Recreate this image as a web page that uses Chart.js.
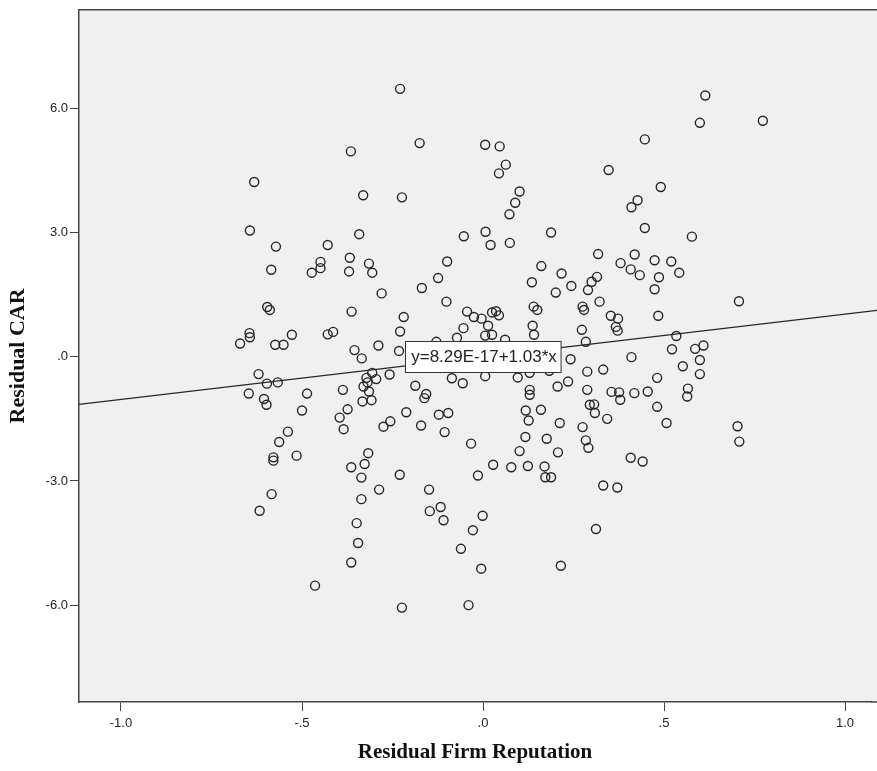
<!DOCTYPE html>
<html>
<head>
<meta charset="utf-8">
<script src="https://cdn.jsdelivr.net/npm/chart.js@4.4.1/dist/chart.umd.min.js"></script>
<style>
  html, body { margin: 0; padding: 0; background: #ffffff; }
  #wrap { width: 877px; height: 771px; }
</style>
</head>
<body>
<div id="wrap"><canvas id="chart" width="877" height="771"></canvas></div>
<script>
// residual firm reputation (x) and residual CAR (y)
const repX = [
  -0.229, -0.365, -0.632, -0.331, -0.224, -0.644, -0.572, -0.429, -0.342, -0.368, -0.315,
  -0.585, -0.473, -0.449, -0.449, -0.370, -0.306, -0.280, -0.596, -0.589, -0.363, -0.219,
  -0.229, -0.645, -0.644, -0.671, -0.528, -0.574, -0.551, -0.429, -0.414, -0.355, -0.335,
  -0.289, -0.232, -0.620, -0.597, -0.567, -0.647, -0.605, -0.598, -0.486, -0.500, -0.387,
  -0.396, -0.374, -0.385, -0.322, -0.306, -0.295, -0.330, -0.319, -0.315, -0.333, -0.308,
  -0.258, -0.212, -0.275, -0.256, -0.539,
  -0.563, -0.579, -0.579, -0.515, -0.317, -0.327, -0.364, -0.336, -0.230, -0.287, -0.584,
  -0.336, -0.617, -0.349, -0.345, -0.364, -0.464, -0.224,
  -0.175, 0.006, 0.046, 0.063, 0.044, 0.101, 0.089, 0.073, -0.053, 0.007, 0.021, 0.074, 0.188,
  -0.099, -0.124, -0.169, -0.101, 0.161, 0.217, 0.244, 0.135, 0.201, 0.140, 0.150, 0.275,
  0.279, -0.044, -0.025, -0.004, 0.025, 0.036, 0.044, -0.054, 0.014, 0.006, 0.025, -0.072,
  0.061, -0.129, 0.137, 0.141, 0.273, 0.284, 0.242, 0.288,
  -0.187, -0.157, -0.162, -0.086, -0.056, 0.006, 0.096, 0.129, 0.183, 0.129, 0.129, 0.206,
  0.235, 0.288, 0.118, 0.160, 0.126, 0.212, -0.122, -0.096, -0.171, -0.106, 0.275,
  -0.033, 0.117, 0.176, 0.101, 0.207, 0.284, 0.291, 0.028, 0.078, 0.124, 0.170, 0.172, 0.188,
  -0.014, -0.149, -0.147, -0.117, -0.109, -0.001, -0.028, -0.061, -0.005, 0.215, -0.040,
  0.614, 0.599, 0.773, 0.447, 0.347, 0.491, 0.427, 0.410, 0.447, 0.577, 0.318, 0.419, 0.474,
  0.520, 0.380,
  0.408, 0.433, 0.542, 0.486, 0.474, 0.315, 0.300, 0.290, 0.322, 0.353, 0.373, 0.367, 0.372,
  0.484, 0.707, 0.534, 0.522, 0.586, 0.609, 0.599, 0.599, 0.552, 0.410, 0.332, 0.481, 0.355,
  0.376, 0.379, 0.418, 0.455, 0.566, 0.564, 0.295, 0.307, 0.309, 0.343, 0.481, 0.507, 0.703,
  0.708, 0.408, 0.441, 0.332, 0.371, 0.312
];
const carY = [
  6.47, 4.96, 4.22, 3.90, 3.85, 3.05, 2.66, 2.70, 2.96, 2.39, 2.25,
  2.10, 2.03, 2.29, 2.14, 2.06, 2.03, 1.53, 1.20, 1.13, 1.09, 0.96,
  0.61, 0.57, 0.47, 0.32, 0.53, 0.29, 0.29, 0.54, 0.60, 0.16, -0.04,
  0.27, 0.14, -0.42, -0.65, -0.62, -0.89, -1.02, -1.16, -0.89, -1.30, -0.80,
  -1.47, -1.27, -1.75, -0.51, -0.39, -0.54, -0.72, -0.62, -0.84, -1.08, -1.05,
  -0.43, -1.34, -1.69, -1.56, -1.81,
  -2.06, -2.43, -2.51, -2.39, -2.33, -2.59, -2.67, -2.92, -2.85, -3.21, -3.32,
  -3.44, -3.72, -4.02, -4.50, -4.97, -5.53, -6.06,
  5.16, 5.12, 5.08, 4.64, 4.43, 3.99, 3.72, 3.44, 2.91, 3.02, 2.70, 2.75, 3.00,
  2.30, 1.90, 1.66, 1.33, 2.19, 2.01, 1.71, 1.80, 1.55, 1.21, 1.13, 1.21,
  1.13, 1.09, 0.96, 0.92, 1.07, 1.10, 1.00, 0.69, 0.75, 0.51, 0.53, 0.46,
  0.41, 0.36, 0.75, 0.53, 0.65, 0.36, -0.06, -0.36,
  -0.70, -0.90, -1.00, -0.52, -0.64, -0.47, -0.50, -0.39, -0.34, -0.80, -0.92, -0.72,
  -0.60, -0.80, -1.30, -1.28, -1.54, -1.60, -1.40, -1.36, -1.66, -1.82, -1.70,
  -2.10, -1.94, -1.98, -2.28, -2.31, -2.02, -2.20, -2.61, -2.67, -2.64, -2.65, -2.91, -2.91,
  -2.87, -3.21, -3.73, -3.63, -3.95, -3.84, -4.19, -4.64, -5.12, -5.05, -6.00,
  6.31, 5.65, 5.70, 5.25, 4.51, 4.10, 3.78, 3.61, 3.11, 2.90, 2.48, 2.47, 2.33,
  2.30, 2.26,
  2.11, 1.97, 2.03, 1.92, 1.63, 1.93, 1.81, 1.61, 1.33, 0.99, 0.92, 0.72, 0.63,
  0.99, 1.34, 0.50, 0.18, 0.19, 0.27, -0.08, -0.42, -0.23, -0.01, -0.31, -0.51, -0.85,
  -0.86, -1.04, -0.88, -0.84, -0.77, -0.96, -1.16, -1.15, -1.36, -1.50, -1.21, -1.60, -1.68,
  -2.05, -2.44, -2.53, -3.11, -3.16, -4.16
];

// fit line as printed on the chart
const fitIntercept = 8.29e-17;
const fitSlope = 1.03;
const fitLabel = 'y=8.29E-17+1.03*x';

const xTicks = [-1.0, -0.5, 0.0, 0.5, 1.0];
const yTicks = [-6.0, -3.0, 0.0, 3.0, 6.0];
const xMin = -1.116, xMax = 1.072;
const yMin = -8.34, yMax = 8.38;
// the frame runs past the right edge of the picture
const fitEnds = [-1.116, 1.09];

const scatterData = repX.map((x, i) => ({ x: x, y: carY[i] }));
const fitData = fitEnds.map(x => ({ x: x, y: fitIntercept + fitSlope * x }));

// SPSS style tick text: ".0", "-.5", "3.0"
function spssNum(v) {
  return v.toFixed(1).replace(/^(-?)0\./, '$1.');
}

const plotBackground = {
  id: 'plotBackground',
  beforeDraw(chart) {
    const { ctx, chartArea: a, width } = chart;
    ctx.save();
    ctx.fillStyle = '#f0f0f0';
    ctx.fillRect(a.left, a.top, width - a.left, a.bottom - a.top);
    ctx.restore();
  },
  afterDraw(chart) {
    const { ctx, chartArea: a, width } = chart;
    ctx.save();
    ctx.strokeStyle = '#444444';
    ctx.lineWidth = 1.5;
    ctx.beginPath();
    ctx.moveTo(a.left - 0.75, a.top);
    ctx.lineTo(width, a.top);
    ctx.moveTo(a.right, a.bottom);
    ctx.lineTo(width, a.bottom);
    ctx.stroke();
    ctx.restore();
  }
};

const fitLabelBox = {
  id: 'fitLabelBox',
  afterDatasetsDraw(chart) {
    const { ctx, scales } = chart;
    const cx = scales.x.getPixelForValue(0);
    const cy = scales.y.getPixelForValue(fitIntercept);
    ctx.save();
    ctx.font = '17px "Liberation Sans", Arial, sans-serif';
    const w = ctx.measureText(fitLabel).width + 10;
    const h = 31;
    const left = Math.round(cx - w / 2) + 0.5;
    const top = Math.round(cy - h / 2) + 0.5;
    ctx.fillStyle = '#ffffff';
    ctx.fillRect(left, top, w, h);
    ctx.strokeStyle = '#333333';
    ctx.lineWidth = 1;
    ctx.strokeRect(left, top, w, h);
    ctx.fillStyle = '#222222';
    ctx.textAlign = 'center';
    ctx.textBaseline = 'middle';
    ctx.fillText(fitLabel, cx + 1, cy + 1);
    ctx.restore();
  }
};

const ctx = document.getElementById('chart').getContext('2d');

new Chart(ctx, {
  type: 'scatter',
  data: {
    datasets: [
      {
        label: 'Residual CAR',
        data: scatterData,
        pointStyle: 'circle',
        pointRadius: 4.5,
        pointHoverRadius: 4.5,
        pointBorderWidth: 1.4,
        borderColor: '#262626',
        backgroundColor: 'rgba(0,0,0,0)',
        order: 2
      },
      {
        type: 'line',
        label: 'Fit',
        data: fitData,
        borderColor: '#262626',
        borderWidth: 1.2,
        pointRadius: 0,
        fill: false,
        clip: { left: 0, top: 0, right: 10, bottom: 0 },
        order: 1
      }
    ]
  },
  options: {
    animation: false,
    responsive: false,
    layout: { padding: { top: 8, right: 0, left: 0, bottom: 0 } },
    plugins: {
      legend: { display: false },
      tooltip: { enabled: false }
    },
    scales: {
      x: {
        type: 'linear',
        min: xMin,
        max: xMax,
        afterBuildTicks: (scale) => { scale.ticks = xTicks.map(v => ({ value: v })); },
        afterFit: (scale) => { scale.height = 69; },
        border: { display: true, color: '#444444', width: 1.5 },
        grid: { display: true, drawOnChartArea: false, drawTicks: true, tickLength: 9, color: '#444444', lineWidth: 1 },
        ticks: {
          callback: (v) => spssNum(v),
          color: '#222222',
          padding: 5,
          maxRotation: 0,
          autoSkip: false,
          font: { family: '"Liberation Sans", Arial, sans-serif', size: 13 }
        },
        title: {
          display: true,
          text: 'Residual Firm Reputation',
          color: '#111111',
          padding: { top: 0, bottom: 6 },
          font: { family: '"Liberation Serif", "Times New Roman", serif', size: 21, weight: 'bold' }
        }
      },
      y: {
        type: 'linear',
        min: yMin,
        max: yMax,
        afterBuildTicks: (scale) => { scale.ticks = yTicks.map(v => ({ value: v })); },
        afterFit: (scale) => { scale.width = 79; },
        border: { display: true, color: '#444444', width: 1.5 },
        grid: { display: true, drawOnChartArea: false, drawTicks: true, tickLength: 9, color: '#444444', lineWidth: 1 },
        ticks: {
          callback: (v) => spssNum(v),
          color: '#222222',
          padding: 2,
          font: { family: '"Liberation Sans", Arial, sans-serif', size: 13 }
        },
        title: {
          display: true,
          text: 'Residual CAR',
          color: '#111111',
          padding: { top: 5, bottom: 0 },
          font: { family: '"Liberation Serif", "Times New Roman", serif', size: 22, weight: 'bold' }
        }
      }
    }
  },
  plugins: [plotBackground, fitLabelBox]
});
</script>
</body>
</html>
